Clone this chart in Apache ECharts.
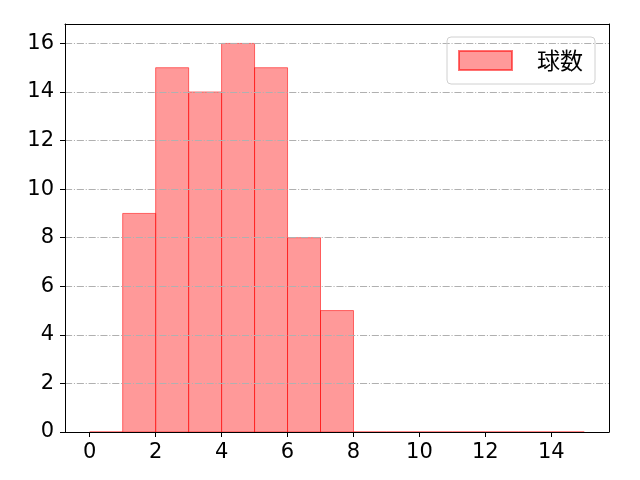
<!DOCTYPE html>
<html>
<head>
<meta charset="utf-8">
<script src="https://cdn.jsdelivr.net/npm/echarts@6/dist/echarts.min.js"></script>
<style>
  html, body { margin: 0; padding: 0; background: #fff; }
  #chart { width: 640px; height: 480px; }
</style>
</head>
<body>
<div id="chart"></div>
<script>
// bin edges (left / right) and counts
const binLeft = [0, 1, 2, 3, 4, 5, 6, 7, 8, 9, 10, 11, 12, 13, 14];
const binRight = [1, 2, 3, 4, 5, 6, 7, 8, 9, 10, 11, 12, 13, 14, 15];
const counts = [0, 9, 15, 14, 16, 15, 8, 5, 0, 0, 0, 0, 0, 0, 0];
const xTicks = [0, 2, 4, 6, 8, 10, 12, 14];
const yTicks = [0, 2, 4, 6, 8, 10, 12, 14, 16];
const seriesName = '球数';

const font = '"DejaVu Sans", "Noto Sans CJK JP", sans-serif';
const spine = { show: true, onZero: false, lineStyle: { color: '#000', width: 1 } };

const histData = binLeft.map(function (l, i) {
  return [l, binRight[i], counts[i]];
});

const chart = echarts.init(document.getElementById('chart'));

const option = {
  animation: false,
  grid: { left: 65, right: 31, top: 24, bottom: 48 },
  legend: {
    data: [seriesName],
    right: 45,
    top: 37,
    padding: [12, 12, 12, 11],
    borderColor: '#d0d0d0',
    borderWidth: 1,
    borderRadius: 4,
    itemWidth: 53,
    itemHeight: 19,
    icon: 'rect',
    textStyle: { fontFamily: '"Noto Sans CJK JP", sans-serif', fontSize: 23, color: '#000', padding: [0, 0, 0, 20] }
  },
  xAxis: [{
    type: 'value',
    min: -0.75,
    max: 15.75,
    axisLine: spine,
    axisTick: { show: true, length: 5, inside: false, customValues: xTicks, lineStyle: { color: '#000' } },
    axisLabel: { customValues: xTicks, margin: 10, fontFamily: font, fontSize: 21, color: '#000' },
    splitLine: { show: false }
  }, {
    type: 'value',
    position: 'top',
    min: -0.75,
    max: 15.75,
    axisLine: spine,
    axisTick: { show: false },
    axisLabel: { show: false },
    splitLine: { show: false }
  }],
  yAxis: [{
    type: 'value',
    min: 0,
    max: 16.8,
    interval: 2,
    axisLine: spine,
    axisTick: { show: true, length: 5, inside: false, customValues: yTicks, lineStyle: { color: '#000' } },
    axisLabel: { customValues: yTicks, margin: 11, fontFamily: font, fontSize: 21, color: '#000' },
    splitLine: {
      show: true,
      showMinLine: false,
      lineStyle: { color: '#b0b0b0', width: 1.1, type: [7.1, 1.8, 1.1, 1.8] }
    }
  }, {
    type: 'value',
    position: 'right',
    min: 0,
    max: 16.8,
    axisLine: spine,
    axisTick: { show: false },
    axisLabel: { show: false },
    splitLine: { show: false }
  }],
  series: [{
    name: seriesName,
    type: 'custom',
    z: -1,
    data: histData,
    encode: { x: [0, 1], y: 2 },
    itemStyle: {
      color: 'rgba(255, 0, 0, 0.4)',
      borderColor: 'rgba(255, 0, 0, 0.55)',
      borderWidth: 1
    },
    renderItem: function (params, api) {
      const p0 = api.coord([api.value(0), 0]);
      const p1 = api.coord([api.value(1), api.value(2)]);
      return {
        type: 'rect',
        shape: { x: p0[0], y: p1[1], width: p1[0] - p0[0], height: p0[1] - p1[1] },
        style: api.style()
      };
    }
  }]
};

chart.setOption(option);
</script>
</body>
</html>
